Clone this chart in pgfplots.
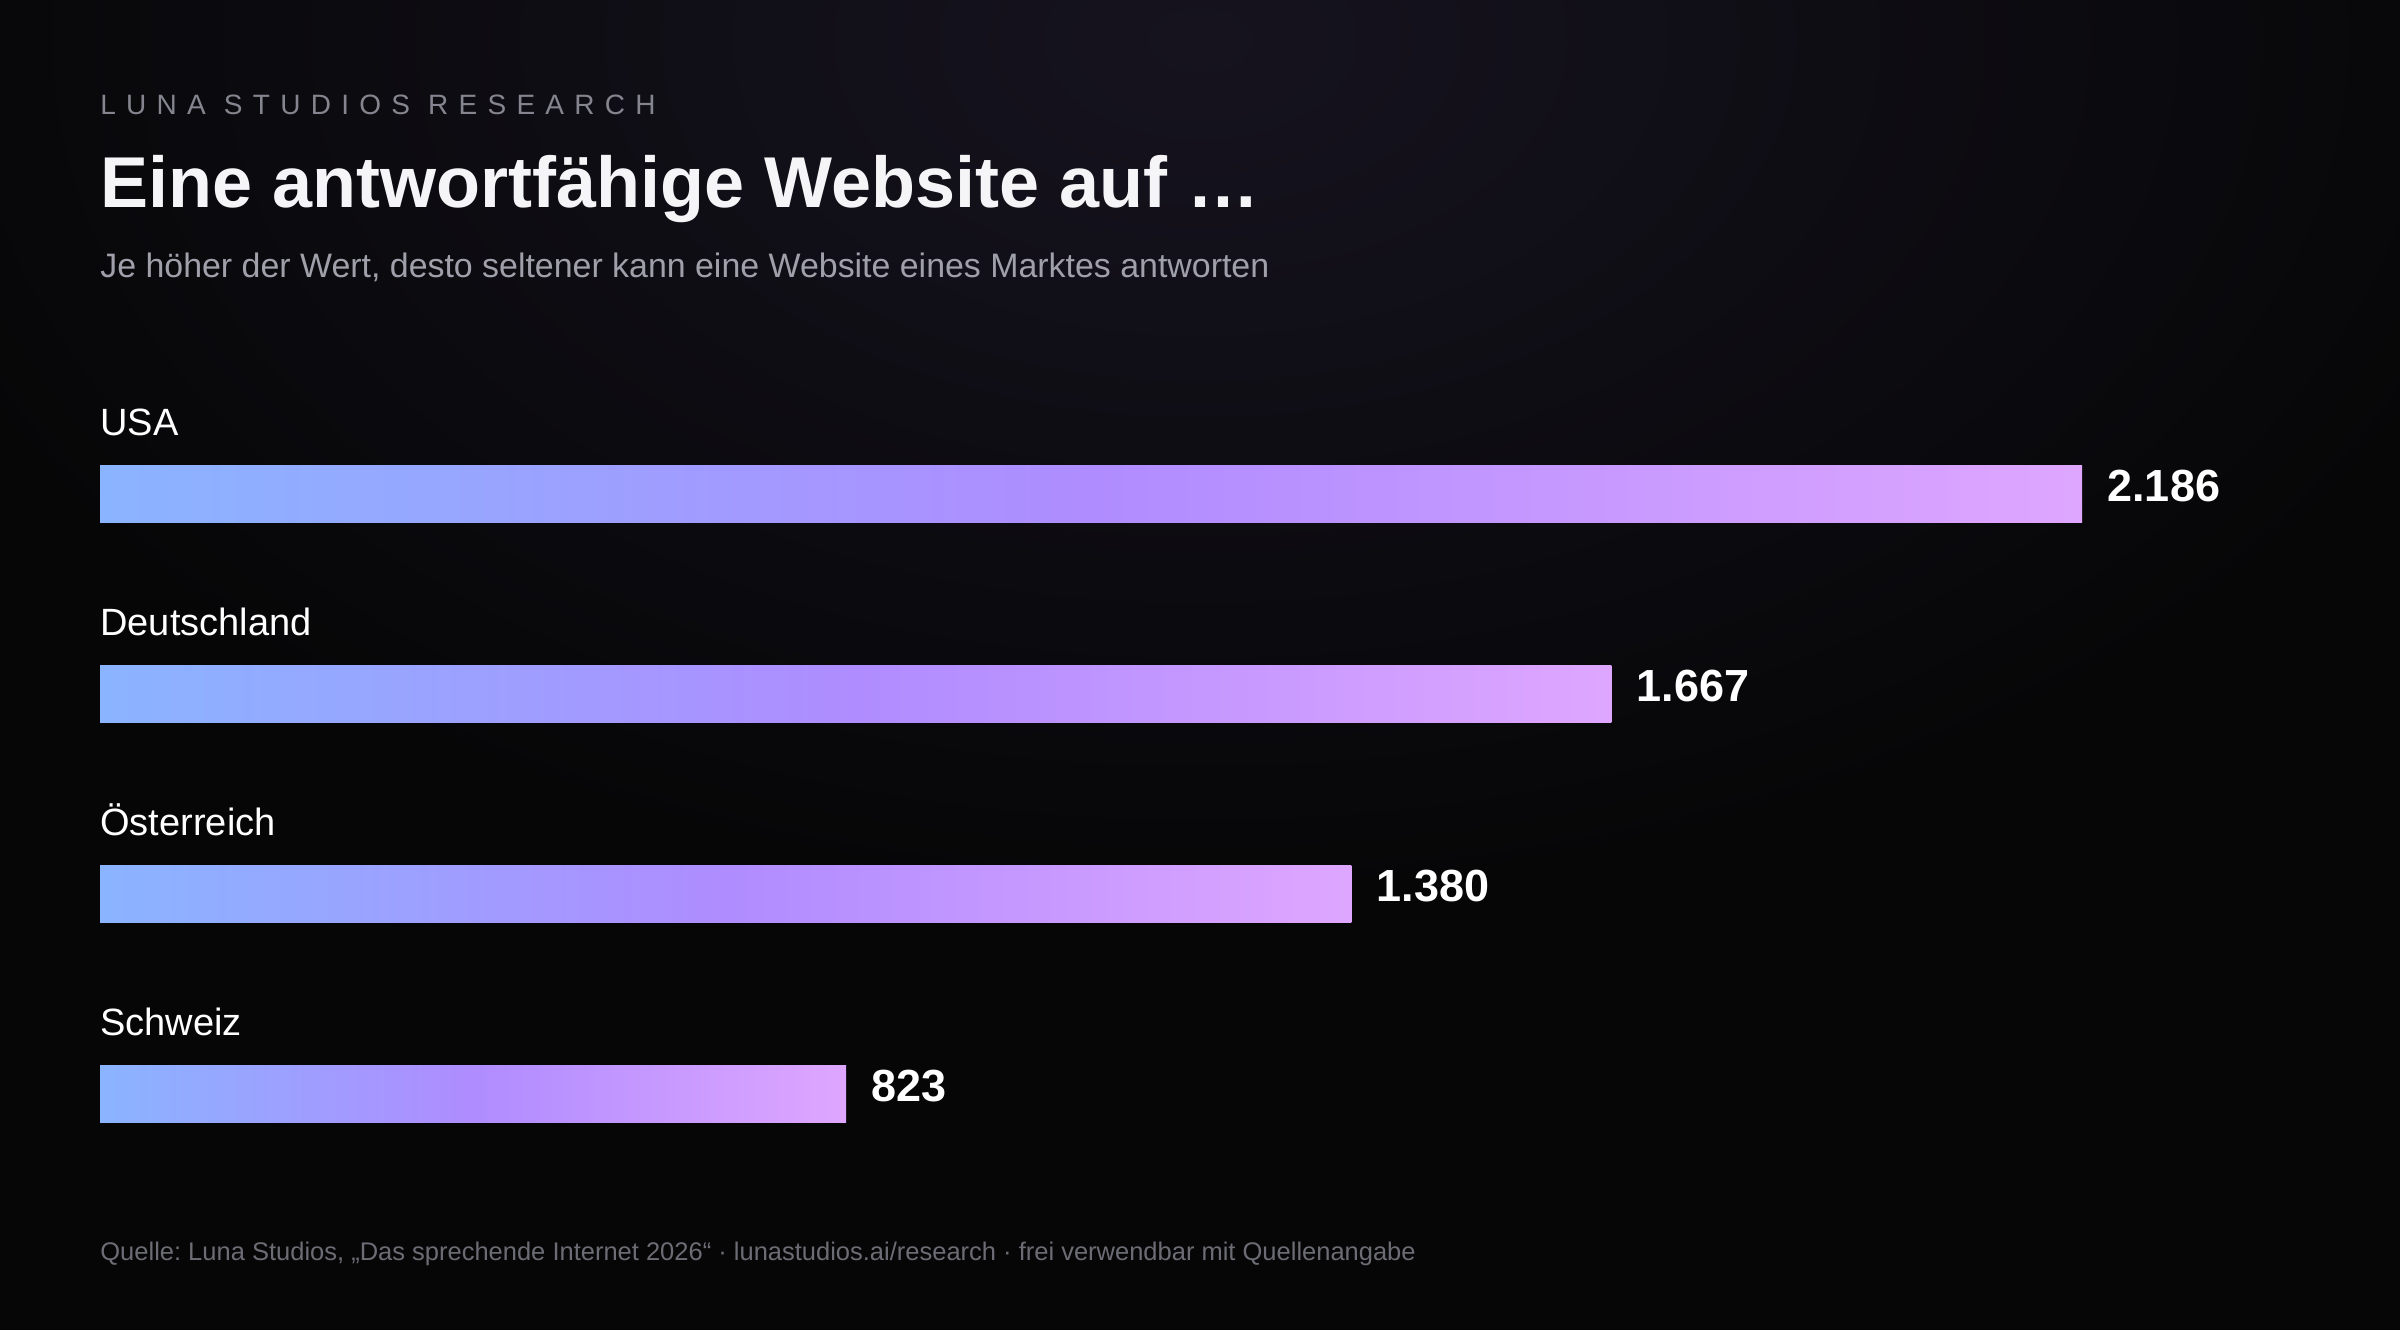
\documentclass[border=0pt]{standalone}
\usepackage{fontspec}
\setmainfont{Liberation Sans}
\usepackage{pgfplots}
\pgfplotsset{compat=1.18}
\definecolor{bgc}{HTML}{060607}
\definecolor{glowc}{HTML}{16131F}
\definecolor{barA}{HTML}{8AB4FF}
\definecolor{barB}{HTML}{AF8CFF}
\definecolor{barC}{HTML}{DEA6FF}
\definecolor{hdrc}{HTML}{85858F}
\definecolor{titlec}{HTML}{F5F5F7}
\definecolor{subc}{HTML}{A0A0AA}
\definecolor{footc}{HTML}{6C6C75}
\pgfdeclarehorizontalshading{barshade}{100bp}{color(0bp)=(barA); color(25bp)=(barA); color(50bp)=(barB); color(75bp)=(barC); color(100bp)=(barC)}
\pgfdeclareradialshading{glow}{\pgfpoint{0bp}{0bp}}{color(0bp)=(glowc); color(25bp)=(bgc); color(50bp)=(bgc)}
\pgfplotsset{gbar/.style={xbar, bar shift=0pt, draw=none, shade, shading=barshade}}
\frenchspacing
\begin{document}
\begin{tikzpicture}
\fill[bgc] (0,0) rectangle (1200pt,-665pt);
\begin{scope}
\clip (0,0) rectangle (1200pt,-665pt);
\shade[shading=glow] (600pt,-20pt) ellipse [x radius=680pt, y radius=430pt];
\end{scope}
\node[anchor=base west, inner sep=0pt, text=hdrc, font=\fontsize{14}{17}\selectfont\addfontfeature{LetterSpace=36.7}] at (50pt,-57pt) {LUNA STUDIOS RESEARCH};
\node[anchor=base west, inner sep=0pt, text=titlec, font=\bfseries\fontsize{36}{43}\selectfont] at (50pt,-103.5pt) {Eine antwortfähige Website auf …};
\node[anchor=base west, inner sep=0pt, text=subc, font=\fontsize{16.95}{20}\selectfont] at (50pt,-138.5pt) {Je höher der Wert, desto seltener kann eine Website eines Marktes antworten};
\node[anchor=base west, inner sep=0pt, text=footc, font=\fontsize{12.75}{15}\selectfont] at (50pt,-630pt) {Quelle: Luna Studios, „Das sprechende Internet 2026“ · lunastudios.ai/research · frei verwendbar mit Quellenangabe};
\begin{axis}[
  at={(50pt,-197pt)}, anchor=north west,
  x=0.45335pt, y=100pt, y dir=reverse,
  xmin=0, xmax=2400, ymin=-0.5, ymax=3.5,
  hide axis, clip=false,
  xbar, bar width=28.35pt, bar shift=0pt,
  point meta=x,
  /pgf/number format/.cd, 1000 sep={.}, assume math mode=true, /pgfplots/.cd,
  nodes near coords, nodes near coords align=horizontal,
  every node near coord/.append style={font=\bfseries\fontsize{22.5}{27}\selectfont, text=white, inner sep=0pt, xshift=12.5pt, yshift=4pt},
]
\addplot[gbar] coordinates {(2186,0)};
\addplot[gbar] coordinates {(1667,1)};
\addplot[gbar] coordinates {(1380,2)};
\addplot[gbar] coordinates {(823,3)};
\node[anchor=base west, inner sep=0pt, text=white, font=\fontsize{19}{23}\selectfont, yshift=29.2pt] at (axis cs:0,0) {USA};
\node[anchor=base west, inner sep=0pt, text=white, font=\fontsize{19}{23}\selectfont, yshift=29.2pt] at (axis cs:0,1) {Deutschland};
\node[anchor=base west, inner sep=0pt, text=white, font=\fontsize{19}{23}\selectfont, yshift=29.2pt] at (axis cs:0,2) {Österreich};
\node[anchor=base west, inner sep=0pt, text=white, font=\fontsize{19}{23}\selectfont, yshift=29.2pt] at (axis cs:0,3) {Schweiz};
\end{axis}
\end{tikzpicture}
\end{document}
